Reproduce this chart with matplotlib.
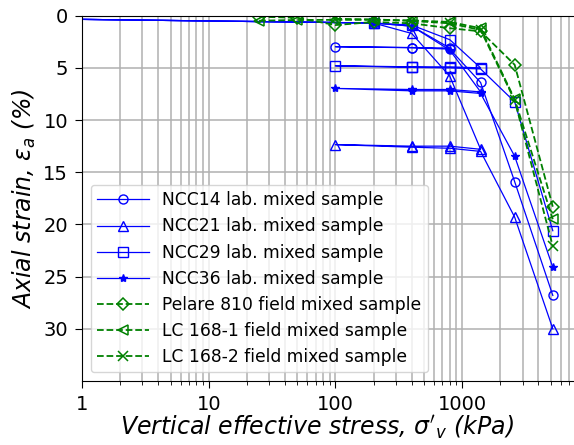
import matplotlib
matplotlib.use("Agg")
import matplotlib.pyplot as plt
from matplotlib.ticker import FixedLocator, LogLocator, FuncFormatter, NullFormatter

# Oedometer results: vertical effective stress (kPa) vs axial strain (%)
ncc14_stress = [0.1, 200, 400, 800, 400, 100, 400, 800, 1400, 2600, 5200]
ncc14_strain = [0.2, 0.7, 1.0, 3.1, 3.05, 2.97, 3.07, 3.2, 6.4, 15.9, 26.8]

ncc21_stress = [0.1, 200, 400, 800, 1400, 800, 400, 100, 400, 800, 1400, 2600, 5200]
ncc21_strain = [0.2, 0.7, 1.7, 5.8, 12.8, 12.5, 12.5, 12.35, 12.6, 12.7, 13.0, 19.3, 30.0]

ncc29_stress = [0.1, 200, 400, 800, 1400, 800, 400, 100, 400, 800, 1400, 2600, 5200]
ncc29_strain = [0.2, 0.7, 0.9, 2.3, 5.0, 4.9, 4.9, 4.8, 4.95, 5.0, 5.1, 8.25, 20.6]

ncc36_stress = [0.1, 200, 400, 800, 1400, 800, 400, 100, 400, 800, 1400, 2600, 5200]
ncc36_strain = [0.2, 0.7, 1.0, 3.3, 7.3, 7.07, 7.07, 6.97, 7.2, 7.2, 7.45, 13.46, 24.1]

pelare_stress = [25, 50, 100, 200, 400, 800, 1400, 2600, 5200]
pelare_strain = [0.1, 0.2, 0.9, 0.6, 0.73, 1.2, 1.5, 4.7, 18.3]

lc1_stress = [25, 50, 100, 200, 400, 800, 1400, 2600, 5200]
lc1_strain = [0.48, 0.41, 0.4, 0.4, 0.45, 0.6, 1.2, 8.0, 19.5]

lc2_stress = [100, 200, 400, 800, 1400, 2600, 5200]
lc2_strain = [0.3, 0.35, 0.5, 0.73, 1.37, 8.1, 22.1]

lab_series = [
    ("NCC14 lab. mixed sample", ncc14_stress, ncc14_strain, "o"),
    ("NCC21 lab. mixed sample", ncc21_stress, ncc21_strain, "^"),
    ("NCC29 lab. mixed sample", ncc29_stress, ncc29_strain, "s"),
    ("NCC36 lab. mixed sample", ncc36_stress, ncc36_strain, "*"),
]
field_series = [
    ("Pelare 810 field mixed sample", pelare_stress, pelare_strain, "D"),
    ("LC 168-1 field mixed sample", lc1_stress, lc1_strain, "<"),
    ("LC 168-2 field mixed sample", lc2_stress, lc2_strain, "x"),
]

x_ticks = [1, 10, 100, 1000]
y_ticks = [0, 5, 10, 15, 20, 25, 30]

fig = plt.figure(figsize=(5.74, 4.45), dpi=100)
ax = fig.add_axes([82 / 574, (445 - 381) / 445, 494.5 / 574, (381 - 15.7) / 445])

for label, s, e, m in lab_series:
    face = "blue" if m == "*" else "none"
    ax.plot(s, e, color="blue", linestyle="-", linewidth=0.9, marker=m,
            markersize=6.5 if m != "*" else 6.0, markerfacecolor=face,
            markeredgecolor="blue", markeredgewidth=1.0, label=label)

for label, s, e, m in field_series:
    ax.plot(s, e, color="green", linestyle="--", linewidth=1.3, marker=m,
            markersize=6.5, markerfacecolor="none", markeredgecolor="green",
            markeredgewidth=1.1, label=label)

ax.set_xscale("log")
ax.set_xlim(1, 8000)
ax.set_ylim(35, 0)

ax.xaxis.set_major_locator(FixedLocator(x_ticks))
ax.xaxis.set_major_formatter(FuncFormatter(lambda v, _: f"{v:g}"))
ax.xaxis.set_minor_locator(LogLocator(base=10, subs=range(2, 10)))
ax.xaxis.set_minor_formatter(NullFormatter())
ax.yaxis.set_major_locator(FixedLocator(y_ticks))

ax.grid(True, which="major", axis="both", color="#b0b0b0", linewidth=1.1)
ax.grid(True, which="minor", axis="x", color="#b0b0b0", linewidth=1.1)
ax.set_axisbelow(True)

ax.spines["right"].set_visible(False)
ax.tick_params(axis="both", which="major", labelsize=14, length=5, pad=5)
ax.tick_params(axis="x", which="minor", length=3)

ax.set_xlabel(r"Vertical effective stress, $\sigma'_v$ (kPa)", fontsize=17,
              style="italic")
ax.xaxis.set_label_coords(0.476, -0.088)
ax.set_ylabel(r"Axial strain, $\varepsilon_a$ (%)", fontsize=17,
              style="italic", labelpad=4)

ax.legend(loc="lower left", fontsize=12.3, handlelength=3.0,
          labelspacing=0.47, borderpad=0.4, handletextpad=0.8)

fig.savefig("out.png", dpi=100)
